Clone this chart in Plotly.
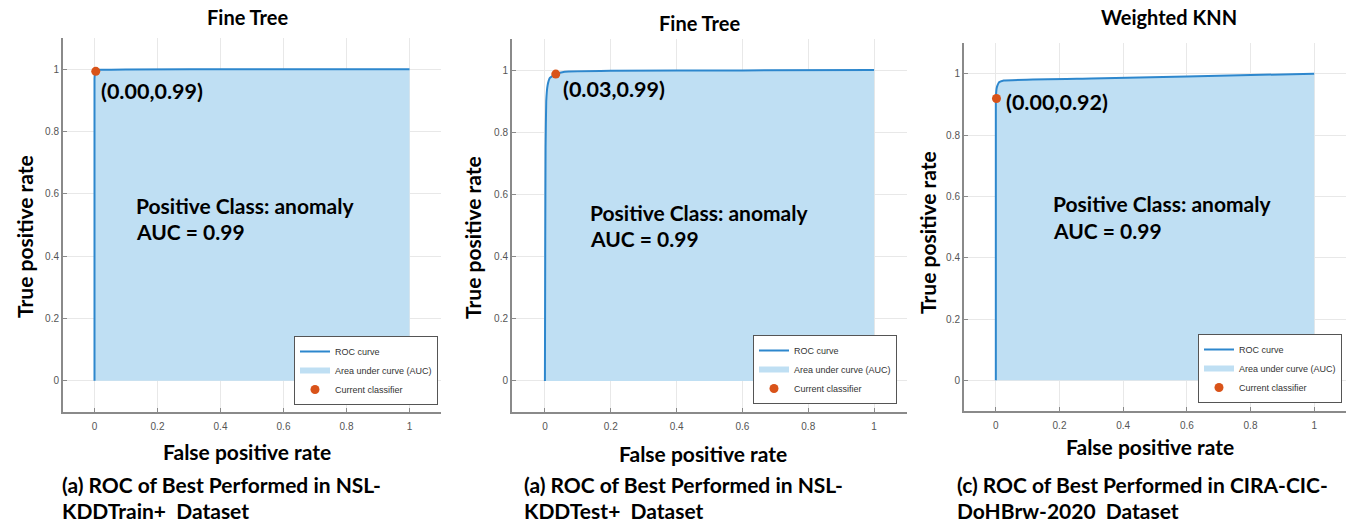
import plotly.graph_objects as go

# ---------------- data ----------------
panel_titles = ["Fine Tree", "Fine Tree", "Weighted KNN"]
captions_line1 = ["(a) ROC of Best Performed in NSL-",
                  "(a) ROC of Best Performed in NSL-",
                  "(c) ROC of Best Performed in CIRA-CIC-"]
captions_line2 = ["KDDTrain+  Dataset", "KDDTest+  Dataset", "DoHBrw-2020  Dataset"]

fpr_train = [0.0, 0.0, 0.002, 0.006, 0.02, 0.1, 0.5, 1.0]
tpr_train = [0.0, 0.97, 0.99, 0.996, 0.998, 0.999, 1.0, 1.0]

fpr_test = [0.0, 0.001, 0.002, 0.004, 0.008, 0.015, 0.033, 0.06, 0.2, 0.6, 1.0]
tpr_test = [0.0, 0.45, 0.75, 0.90, 0.95, 0.975, 0.987, 0.995, 0.998, 0.999, 1.0]

fpr_doh = [0.0, 0.0, 0.003, 0.01, 0.025, 0.3, 0.6, 1.0]
tpr_doh = [0.0, 0.92, 0.955, 0.972, 0.978, 0.984, 0.991, 1.0]

op_fpr = [0.004, 0.033, 0.002]
op_tpr = [0.993, 0.987, 0.919]
op_labels = ["(0.00,0.99)", "(0.03,0.99)", "(0.00,0.92)"]

positive_class = "Positive Class: anomaly"
auc_values = [0.99, 0.99, 0.99]

tick_vals = [0, 0.2, 0.4, 0.6, 0.8, 1]
tick_text = ["0", "0.2", "0.4", "0.6", "0.8", "1"]

x_title = "False positive rate"
y_title = "True positive rate"
legend_names = ["ROC curve", "Area under curve (AUC)", "Current classifier"]

# ---------------- layout geometry (pixels) ----------------
W, H = 1350, 523
def px(x):
    return x / W
def py(y):
    return 1 - y / H

panels = [
    dict(x0=63, x1=441, y0=38, y1=412, title=(247, 17), ytitle=(25, 237), xtitle=(247, 451),
         cap_x=61, leg=(294, 405), op_txt=(0.019, 0.93), pc=(0.13, 0.564, 0.478)),
    dict(x0=512, x1=907, y0=39, y1=412, title=(699, 23), ytitle=(473, 238), xtitle=(703, 453),
         cap_x=523, leg=(753, 404), op_txt=(0.052, 0.939), pc=(0.134, 0.543, 0.457)),
    dict(x0=964, x1=1346, y0=43, y1=411, title=(1169, 17), ytitle=(927, 233), xtitle=(1150, 446),
         cap_x=956, leg=(1198, 403), op_txt=(0.028, 0.908), pc=(0.176, 0.578, 0.487)),
]

fprs = [fpr_train, fpr_test, fpr_doh]
tprs = [tpr_train, tpr_test, tpr_doh]

LINE_C = "rgb(45,135,205)"
FILL_C = "rgb(191,223,243)"
MARK_C = "#D95319"
BOLD_FONT = "Lato, 'Open Sans', sans-serif"
SMALL_FONT = "'Liberation Sans', Arial, sans-serif"

fig = go.Figure()
annotations = []
layout = dict(width=W, height=H, margin=dict(l=0, r=0, t=0, b=0),
              paper_bgcolor="white", plot_bgcolor="white", showlegend=True)

for i, p in enumerate(panels):
    k = "" if i == 0 else str(i + 1)
    xa, ya = "x" + k, "y" + k
    leg = "legend" + k
    fig.add_trace(go.Scatter(x=fprs[i], y=tprs[i], mode="none", fill="tozeroy",
                             fillcolor=FILL_C, name=legend_names[1], legend=leg,
                             legendrank=2, xaxis=xa, yaxis=ya, hoverinfo="skip"))
    fig.add_trace(go.Scatter(x=fprs[i], y=tprs[i], mode="lines",
                             line=dict(color=LINE_C, width=2, shape="spline", smoothing=0.3),
                             name=legend_names[0], legend=leg, legendrank=1,
                             xaxis=xa, yaxis=ya))
    fig.add_trace(go.Scatter(x=[op_fpr[i]], y=[op_tpr[i]], mode="markers",
                             marker=dict(color=MARK_C, size=9),
                             name=legend_names[2], legend=leg, legendrank=3,
                             xaxis=xa, yaxis=ya))

    axis_common = dict(range=[-0.1, 1.1], tickvals=tick_vals, ticktext=tick_text,
                       showgrid=True, gridcolor="#E8E8E8", gridwidth=1, zeroline=False,
                       showline=True, linecolor="#8A8A8A", linewidth=2,
                       ticks="inside", ticklen=4, tickcolor="#8A8A8A",
                       tickfont=dict(family=SMALL_FONT, size=10, color="#555555"),
                       fixedrange=True)
    layout["xaxis" + k] = dict(axis_common, domain=[px(p["x0"]), px(p["x1"])],
                               anchor=ya, ticklabelstandoff=4)
    layout["yaxis" + k] = dict(axis_common, domain=[py(p["y1"]), py(p["y0"])],
                               anchor=xa)
    layout[leg] = dict(x=px(p["leg"][0]), y=py(p["leg"][1]), xref="paper", yref="paper",
                       xanchor="left", yanchor="bottom", bgcolor="white",
                       bordercolor="#555555", borderwidth=1, itemwidth=30,
                       font=dict(family=SMALL_FONT, size=9, color="#333333"),
                       tracegroupgap=0)

    def ann(text, x, y, size, xanchor="center", angle=0, xref="paper", yref="paper"):
        annotations.append(dict(text="<b>" + text + "</b>", x=x, y=y, xref=xref, yref=yref,
                                xanchor=xanchor, yanchor="middle", showarrow=False,
                                textangle=angle, borderpad=0,
                                font=dict(family=BOLD_FONT, size=size, color="black")))

    ann(panel_titles[i], px(p["title"][0]), py(p["title"][1]), 20)
    ann(y_title, px(p["ytitle"][0]), py(p["ytitle"][1]), 21, angle=-90)
    ann(x_title, px(p["xtitle"][0]), py(p["xtitle"][1]), 21)
    ann(captions_line1[i], px(p["cap_x"]), py(484), 21, xanchor="left")
    ann(captions_line2[i], px(p["cap_x"]), py(510), 21, xanchor="left")
    ann(op_labels[i], p["op_txt"][0], p["op_txt"][1], 21.5, xanchor="left", xref=xa, yref=ya)
    ann(positive_class, p["pc"][0], p["pc"][1], 21, xanchor="left", xref=xa, yref=ya)
    ann("AUC = %.2f" % auc_values[i], p["pc"][0], p["pc"][2], 21, xanchor="left", xref=xa, yref=ya)

layout["annotations"] = annotations
fig.update_layout(**layout)
fig.write_html("out.html",
               config={"displayModeBar": False, "staticPlot": True},
               post_script="document.body.style.margin='0';document.body.style.overflow='hidden';")
